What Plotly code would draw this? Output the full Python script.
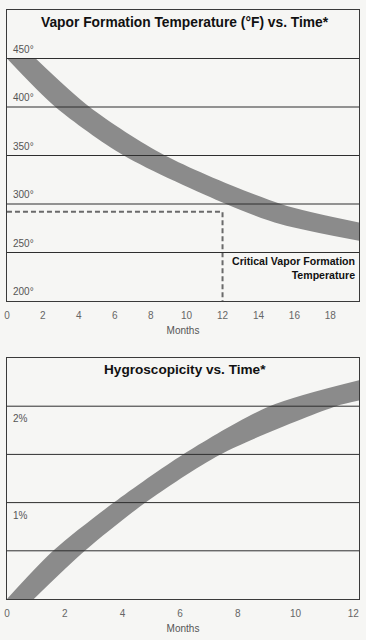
import plotly.graph_objects as go

# ---------------- data: top chart (Vapor Formation Temperature) ----------------
vap_months_lower = [0, 2.7, 6.5, 12.2, 15.25, 19.6]
vap_temp_lower = [450, 400, 350, 300, 279, 262]
vap_months_upper = [1.6, 4.6, 8.8, 15.25, 19.6]
vap_temp_upper = [450, 400, 350, 300, 281]
vap_xticks = [0, 2, 4, 6, 8, 10, 12, 14, 16, 18]
vap_grid = [250, 300, 350, 400, 450]
vap_ylabels_vals = [450, 400, 350, 300, 250, 200]
vap_ylabels_text = ["450°", "400°", "350°", "300°", "250°", "200°"]
crit_temp = 292
crit_month = 12
crit_label_temp = 234

# ---------------- data: bottom chart (Hygroscopicity) ----------------
hyg_months_upper = [0, 1.6, 3.7, 6.1, 9.1, 12.2]
hyg_upper = [0, 0.5, 1.0, 1.5, 2.0, 2.27]
hyg_months_lower = [0.93, 2.7, 4.8, 7.4, 11.4, 12.2]
hyg_lower = [0, 0.5, 1.0, 1.5, 2.0, 2.06]
hyg_xticks = [0, 2, 4, 6, 8, 10, 12]
hyg_grid = [0.5, 1.0, 1.5, 2.0]
hyg_ylabels_vals = [2.0, 1.0]
hyg_ylabels_text = ["2%", "1%"]

BAND = "#8b8b8b"
BG = "#f6f6f4"
GRID = "#2e2e2e"
FONT = "Liberation Sans, Arial, Helvetica, sans-serif"
W, H = 366, 640

fig = go.Figure()

# top band
fig.add_trace(go.Scatter(x=vap_months_lower, y=vap_temp_lower, mode="lines",
                         line=dict(width=0, shape="spline", smoothing=0.8, color=BAND),
                         xaxis="x", yaxis="y", showlegend=False, hoverinfo="skip"))
fig.add_trace(go.Scatter(x=vap_months_upper, y=vap_temp_upper, mode="lines",
                         line=dict(width=0, shape="spline", smoothing=0.8, color=BAND),
                         fill="tonexty", fillcolor=BAND,
                         xaxis="x", yaxis="y", showlegend=False, hoverinfo="skip"))
# critical dashed line
fig.add_trace(go.Scatter(x=[0, crit_month, crit_month], y=[crit_temp, crit_temp, 200],
                         mode="lines", line=dict(width=2, color="#6a6a6a", dash="5px,3px"),
                         xaxis="x", yaxis="y", showlegend=False, hoverinfo="skip"))

# bottom band
fig.add_trace(go.Scatter(x=hyg_months_lower, y=hyg_lower, mode="lines",
                         line=dict(width=0, shape="spline", smoothing=0.8, color=BAND),
                         xaxis="x2", yaxis="y2", showlegend=False, hoverinfo="skip"))
fig.add_trace(go.Scatter(x=hyg_months_upper, y=hyg_upper, mode="lines",
                         line=dict(width=0, shape="spline", smoothing=0.8, color=BAND),
                         fill="tonexty", fillcolor=BAND,
                         xaxis="x2", yaxis="y2", showlegend=False, hoverinfo="skip"))

xdom = [4 / W, 359 / W]
top_dom = [1 - 301 / H, 1 - 10 / H]
bot_dom = [1 - 599 / H, 1 - 358 / H]

axis_common = dict(showgrid=False, zeroline=False, showline=True, mirror=True,
                   linecolor="#3a3a3a", linewidth=1)

shapes = []
for v in vap_grid:
    shapes.append(dict(type="line", xref="x domain", yref="y", x0=0, x1=1, y0=v, y1=v,
                       line=dict(color=GRID, width=1), layer="above"))
for v in hyg_grid:
    shapes.append(dict(type="line", xref="x2 domain", yref="y2", x0=0, x1=1, y0=v, y1=v,
                       line=dict(color=GRID, width=1), layer="above"))

annotations = []
for v, t in zip(vap_ylabels_vals, vap_ylabels_text):
    annotations.append(dict(xref="x domain", yref="y", x=0, y=v, text=t, showarrow=False,
                            xanchor="left", yanchor="bottom", xshift=4, yshift=2,
                            font=dict(family=FONT, size=10, color="#555")))
for v, t in zip(hyg_ylabels_vals, hyg_ylabels_text):
    annotations.append(dict(xref="x2 domain", yref="y2", x=0, y=v, text=t, showarrow=False,
                            xanchor="left", yanchor="top", xshift=4, yshift=-5,
                            font=dict(family=FONT, size=10, color="#555")))

annotations.append(dict(xref="paper", yref="paper", x=0.5, y=1 - 22 / H,
                        text="<b>Vapor Formation Temperature (°F) vs. Time*</b>",
                        showarrow=False, xanchor="center", yanchor="middle",
                        font=dict(family=FONT, size=13.8, color="#111")))
annotations.append(dict(xref="paper", yref="paper", x=0.5, y=1 - 369 / H,
                        text="<b>Hygroscopicity vs. Time*</b>",
                        showarrow=False, xanchor="center", yanchor="middle",
                        font=dict(family=FONT, size=13.6, color="#111")))
annotations.append(dict(xref="x domain", yref="y", x=1, y=crit_label_temp,
                        text="<b>Critical Vapor Formation<br>Temperature</b>",
                        showarrow=False, xanchor="right", yanchor="middle", align="right",
                        xshift=-2,
                        font=dict(family=FONT, size=10.6, color="#111")))

fig.update_layout(
    width=W, height=H, autosize=False,
    margin=dict(l=0, r=0, t=0, b=0),
    paper_bgcolor=BG, plot_bgcolor=BG,
    font=dict(family=FONT),
    xaxis=dict(domain=xdom, range=[0, 19.6], anchor="y", tickvals=vap_xticks,
               ticks="", ticklabelstandoff=5,
               tickfont=dict(family=FONT, size=10, color="#666"),
               title=dict(text="Months", standoff=6, font=dict(family=FONT, size=10, color="#555")),
               **axis_common),
    yaxis=dict(domain=top_dom, range=[200, 500], anchor="x", showticklabels=False,
               ticks="", **axis_common),
    xaxis2=dict(domain=xdom, range=[0, 12.2], anchor="y2", tickvals=hyg_xticks,
                ticks="", ticklabelstandoff=5,
                tickfont=dict(family=FONT, size=10, color="#666"),
                title=dict(text="Months", standoff=6, font=dict(family=FONT, size=10, color="#555")),
                **axis_common),
    yaxis2=dict(domain=bot_dom, range=[0, 2.5], anchor="x2", showticklabels=False,
                ticks="", **axis_common),
    shapes=shapes,
    annotations=annotations,
)

fig.write_html("out.html",
               config={"displayModeBar": False},
               post_script="document.body.style.margin='0';document.body.style.padding='0';"
                           "document.body.style.overflow='hidden';"
                           "document.body.style.background='" + BG + "';")
